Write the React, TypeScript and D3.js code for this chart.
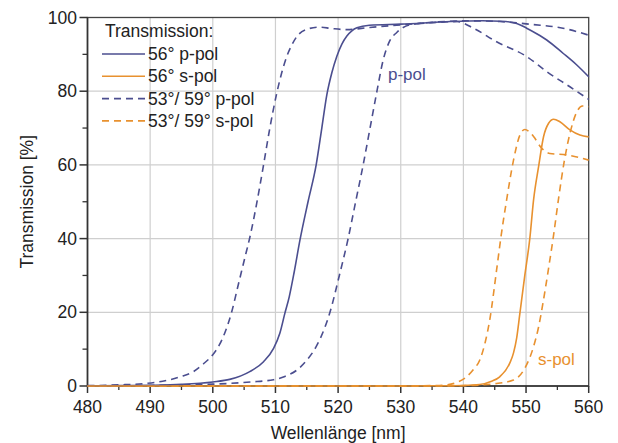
import * as d3 from "d3";

// wavelength [nm], transmission [%]
const p56: [number, number][] = [
  [480, 0.05], [485, 0.1], [490, 0.2], [495, 0.45], [500, 1.1], [502.7, 1.8], [505.9, 3.9],
  [508.1, 6.6], [509.7, 10.2], [510.7, 14.3], [511.5, 19.7], [512.2, 24.2], [513, 31],
  [513.9, 39.5], [515.2, 50], [516.5, 60], [517.4, 70], [518.2, 79], [519, 85],
  [519.8, 89.5], [520.6, 92.8], [521.4, 95], [522.2, 96.4], [523, 97.2], [525, 97.9],
  [530, 98.2], [538, 98.9], [543, 99.1], [546, 99], [548.5, 98.4], [550.1, 97.1],
  [551.7, 95.6], [553.3, 93.9], [555.9, 90.3], [558.1, 87.1], [560, 83.9],
];
const p59: [number, number][] = [
  [480, 0.1], [485, 0.3], [489.4, 0.7], [492, 1.3], [494.8, 2.5], [497, 4], [498.5, 6],
  [500, 8.5], [501, 11], [502, 14.8], [503, 20], [504, 27], [505, 34], [506, 41], [507, 49.5],
  [508, 59], [509, 69], [510.2, 79.4], [511, 85], [511.8, 89.4], [512.6, 92.5], [513.4, 94.8],
  [515, 96.8], [517, 97.4], [519, 97], [521.4, 96.7], [525, 97.3], [530, 98], [535, 98.6],
  [539, 98.9], [541.6, 97.1], [545.3, 93.4], [550.1, 89.4], [553.3, 85.3], [557, 81.2],
  [560, 77.8],
];
const p53: [number, number][] = [
  [480, 0], [490, 0.15], [495, 0.3], [500, 0.5], [502.7, 0.7], [506, 1.1], [509.7, 1.7],
  [511.5, 2.6], [513.4, 4.3], [515, 7], [516.6, 11], [517.8, 15.5], [518.7, 20], [520.2, 30],
  [521.6, 40], [522.8, 50], [524, 60], [525.1, 70], [526.2, 80], [527.2, 88.5], [528.2, 93.5],
  [529.4, 96], [531.5, 98], [536, 98.8], [540.5, 99.1], [545.8, 98.9], [551, 98.1],
  [555.9, 97.1], [560, 95.2],
];
const s56: [number, number][] = [
  [480, 0], [530, 0], [535, 0.05], [540, 0.15], [542.6, 0.4], [544.5, 1.3], [545.8, 2.5],
  [547.4, 6.2], [548, 9], [548.5, 13], [549, 19.5], [549.8, 30], [550.6, 40], [551.2, 50.5],
  [552, 59.5], [552.8, 67.7], [553.6, 71.3], [554.4, 72.4], [555.4, 71.7], [557, 69.5],
  [558.6, 68.1], [560, 67.6],
];
const s59: [number, number][] = [
  [480, 0], [530, 0], [535, 0.1], [537.3, 0.3], [539, 1], [540.5, 2.5], [541.6, 4.5],
  [542.6, 7], [543.5, 12], [544.2, 17.9], [545.3, 31.5], [546, 40.5], [546.9, 50.5],
  [548, 61.3], [549, 68], [549.8, 69.6], [550.5, 69], [551.2, 67.7], [552.5, 64.5],
  [553.8, 63.1], [556.5, 62.7], [560, 61.3],
];
const s53: [number, number][] = [
  [480, 0], [535, 0], [540, 0.1], [543, 0.3], [545.3, 0.7], [548, 1.6], [549.8, 4.8],
  [551.2, 10.7], [552, 16], [552.8, 23.5], [553.6, 32], [554.4, 41], [555.2, 51], [556.1, 61],
  [557, 68.5], [558, 74], [559, 76], [560, 75.8],
];

const xTicks = [480, 490, 500, 510, 520, 530, 540, 550, 560];
const yTicks = [0, 20, 40, 60, 80, 100];
const legendTitle = "Transmission:";
const legendLabels = ["56° p-pol", "56° s-pol", "53°/ 59° p-pol", "53°/ 59° s-pol"];

const BLUE = "#4b4e8f";
const ORANGE = "#e8912f";
const FONT = "'Liberation Sans', Arial, sans-serif";

export default function App() {
  const width = 618;
  const height = 443;
  const MARGIN = { top: 17.5, right: 29.3, bottom: 57, left: 87.5 };

  const x = d3.scaleLinear().domain([480, 560]).range([MARGIN.left, width - MARGIN.right]);
  const y = d3.scaleLinear().domain([0, 100]).range([height - MARGIN.bottom, MARGIN.top]);

  const line = d3
    .line<[number, number]>()
    .x((d) => x(d[0]))
    .y((d) => y(d[1]))
    .curve(d3.curveMonotoneX);

  const series = [
    { data: p59, color: BLUE, dash: "7,5" },
    { data: p53, color: BLUE, dash: "7,5" },
    { data: s59, color: ORANGE, dash: "7,5" },
    { data: s53, color: ORANGE, dash: "7,5" },
    { data: p56, color: BLUE, dash: null },
    { data: s56, color: ORANGE, dash: null },
  ];

  const legendItems = [
    { color: BLUE, dash: null },
    { color: ORANGE, dash: null },
    { color: BLUE, dash: "7,5" },
    { color: ORANGE, dash: "7,5" },
  ];

  const minorX = d3.range(485, 560, 10);
  const minorY = d3.range(10, 100, 20);
  const [x0, x1] = x.range();
  const [y0, y1] = y.range();

  return (
    <svg
      width={width}
      height={height}
      style={{ position: "absolute", left: 0, top: 0, background: "#fff" }}
      fontFamily={FONT}
    >
      {/* grid */}
      {xTicks.slice(1, -1).map((t) => (
        <line key={"gx" + t} x1={x(t)} x2={x(t)} y1={y1} y2={y0} stroke="#cfcfcf" strokeWidth={1.2} />
      ))}
      {yTicks.slice(1, -1).map((t) => (
        <line key={"gy" + t} x1={x0} x2={x1} y1={y(t)} y2={y(t)} stroke="#cfcfcf" strokeWidth={1.2} />
      ))}

      {/* frame */}
      <rect x={x0} y={y1} width={x1 - x0} height={y0 - y1} fill="none" stroke="#444" strokeWidth={1.3} />
      <line x1={x0} x2={x0} y1={y1} y2={y0} stroke="#333" strokeWidth={1.6} />
      <line x1={x0} x2={x1} y1={y0} y2={y0} stroke="#333" strokeWidth={1.6} />

      {/* ticks */}
      {xTicks.map((t) => (
        <g key={"tx" + t}>
          <line x1={x(t)} x2={x(t)} y1={y0} y2={y0 + 7} stroke="#333" strokeWidth={1.5} />
          <text x={x(t)} y={413} textAnchor="middle" fontSize={17.5} fill="#222">
            {t}
          </text>
        </g>
      ))}
      {minorX.map((t) => (
        <line key={"mx" + t} x1={x(t)} x2={x(t)} y1={y0} y2={y0 + 4} stroke="#333" strokeWidth={1.3} />
      ))}
      {yTicks.map((t) => (
        <g key={"ty" + t}>
          <line x1={x0 - 8} x2={x0} y1={y(t)} y2={y(t)} stroke="#333" strokeWidth={1.5} />
          <text x={77} y={y(t)} textAnchor="end" dominantBaseline="central" fontSize={17.5} fill="#222">
            {t}
          </text>
        </g>
      ))}
      {minorY.map((t) => (
        <line key={"my" + t} x1={x0 - 5} x2={x0} y1={y(t)} y2={y(t)} stroke="#333" strokeWidth={1.3} />
      ))}

      {/* axis titles */}
      <text x={(x0 + x1) / 2} y={439} textAnchor="middle" fontSize={17.5} fill="#222">
        Wellenlänge [nm]
      </text>
      <text
        transform={`translate(33,${(y0 + y1) / 2}) rotate(-90)`}
        textAnchor="middle"
        fontSize={17.5}
        fill="#222"
      >
        Transmission [%]
      </text>

      {/* curves */}
      {series.map((s, i) => (
        <path
          key={"s" + i}
          d={line(s.data) || ""}
          fill="none"
          stroke={s.color}
          strokeWidth={1.6}
          strokeDasharray={s.dash || undefined}
        />
      ))}

      {/* annotations */}
      <text x={388} y={80} fontSize={17} fill={BLUE}>
        p-pol
      </text>
      <text x={538} y={365} fontSize={17} fill={ORANGE}>
        s-pol
      </text>

      {/* legend */}
      <text x={105} y={37} fontSize={17.5} fill="#222">
        {legendTitle}
      </text>
      {legendLabels.map((label, i) => {
        const ly = 54 + i * 22.3;
        return (
          <g key={"lg" + i}>
            <line
              x1={102}
              x2={145}
              y1={ly}
              y2={ly}
              stroke={legendItems[i].color}
              strokeWidth={1.6}
              strokeDasharray={legendItems[i].dash || undefined}
            />
            <text x={148} y={ly} dominantBaseline="central" fontSize={17.5} fill="#222">
              {label}
            </text>
          </g>
        );
      })}
    </svg>
  );
}
